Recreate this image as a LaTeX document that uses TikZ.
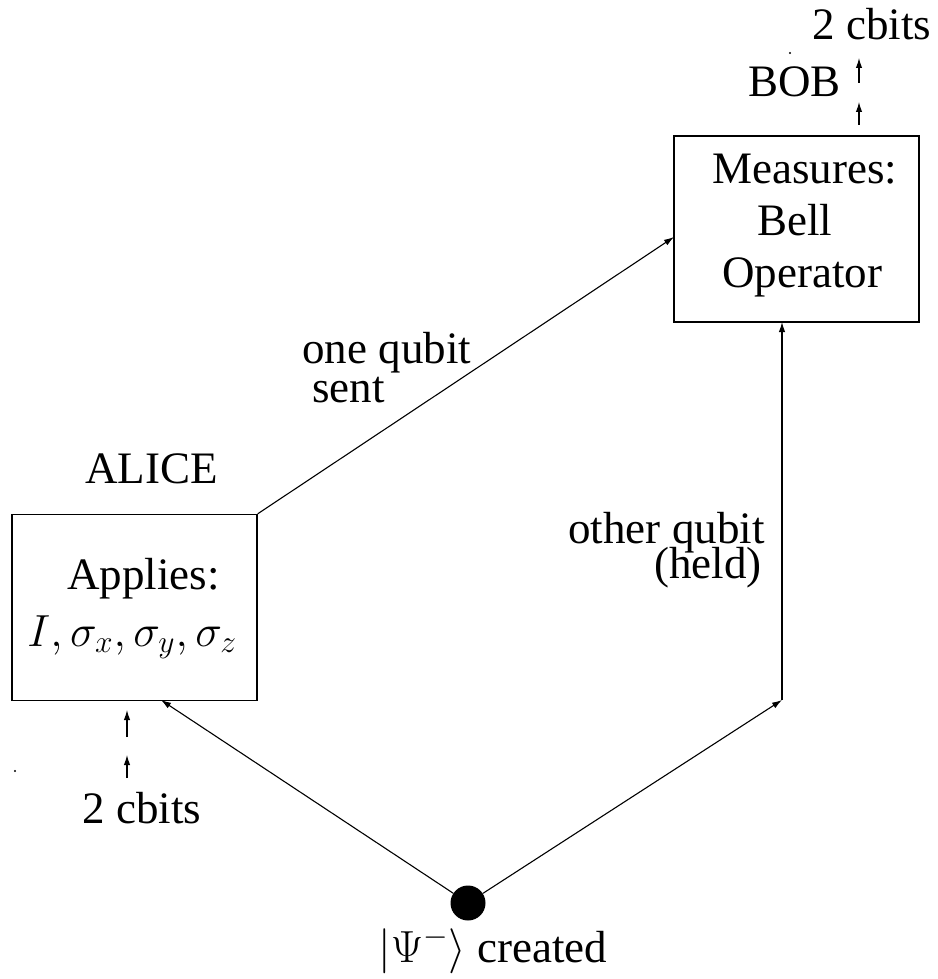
\RequirePackage{fix-cm}
\documentclass[tikz,border=0pt]{standalone}
\usepackage{fontspec}
\setmainfont{Liberation Serif}
\usetikzlibrary{arrows.meta}
\tikzset{
  lbl/.style={anchor=base west, inner sep=0pt, font=\fontsize{22.5}{27}\selectfont},
  boxnode/.style={draw, line width=0.7pt, minimum width=122.5pt, minimum height=93pt, inner sep=0pt},
  conn/.style={line width=0.55pt, -{Latex[length=5pt,width=3.2pt]}},
  speck/.style={circle, fill, inner sep=0pt, minimum size=1.2pt}
}
\begin{document}
\begin{tikzpicture}[x=0.5pt, y=-0.5pt]
\useasboundingbox (0,0) rectangle (937,979);
% boxes
\node[boxnode] (alice) at (134.5,607.5) {};
\node[boxnode] (bob) at (796.5,229) {};
% source
\node[circle, fill, inner sep=0pt, minimum size=17.5pt] (psi) at (468,903) {};
% coordinates
\coordinate (abot) at (161,700);
\coordinate (hold) at (782,700);
\coordinate (bbot) at (782,322);
\coordinate (bleft) at (674,237);
\coordinate (a1t) at (127,710); \coordinate (a1s) at (127,737);
\coordinate (a2t) at (127,755); \coordinate (a2s) at (127,778);
\coordinate (b1t) at (859,58);  \coordinate (b1s) at (859,83);
\coordinate (b2t) at (859,102); \coordinate (b2s) at (859,125);
% connectors
\draw[conn] (psi) -- (abot);
\draw[conn] (psi) -- (hold);
\draw[conn] (hold) -- (bbot);
\draw[conn] (alice.north east) -- (bleft);
\draw[conn] (a1s) -- (a1t);
\draw[conn] (a2s) -- (a2t);
\draw[conn] (b1s) -- (b1t);
\draw[conn] (b2s) -- (b2t);
% specks
\node[speck] (s1) at (790,53) {};
\node[speck] (s2) at (15,771) {};
% labels
\node[lbl] (t2cb) at (812,40) {2 cbits};
\node[lbl] (tbob) at (748,97) {BOB};
\node[lbl] (tmeas) at (712,183) {Measures:};
\node[lbl] (tbell) at (757,235) {Bell};
\node[lbl] (top) at (722,287) {Operator};
\node[lbl] (tone) at (302,363) {one qubit};
\node[lbl] (tsent) at (312,402) {sent};
\node[lbl] (talice) at (85,483) {ALICE};
\node[lbl] (tapp) at (67,589) {Applies:};
\node[lbl] (tops) at (27,646) {$I,\sigma_x,\sigma_y,\sigma_z$};
\node[lbl] (tother) at (568,543) {other qubit};
\node[lbl, anchor=base east] (theld) at (762,578) {(held)};
\node[lbl] (tcb2) at (82,823) {2 cbits};
\node[lbl] (tcreated) at (378,962) {$|\Psi^-\rangle$ created};
\end{tikzpicture}
\end{document}
